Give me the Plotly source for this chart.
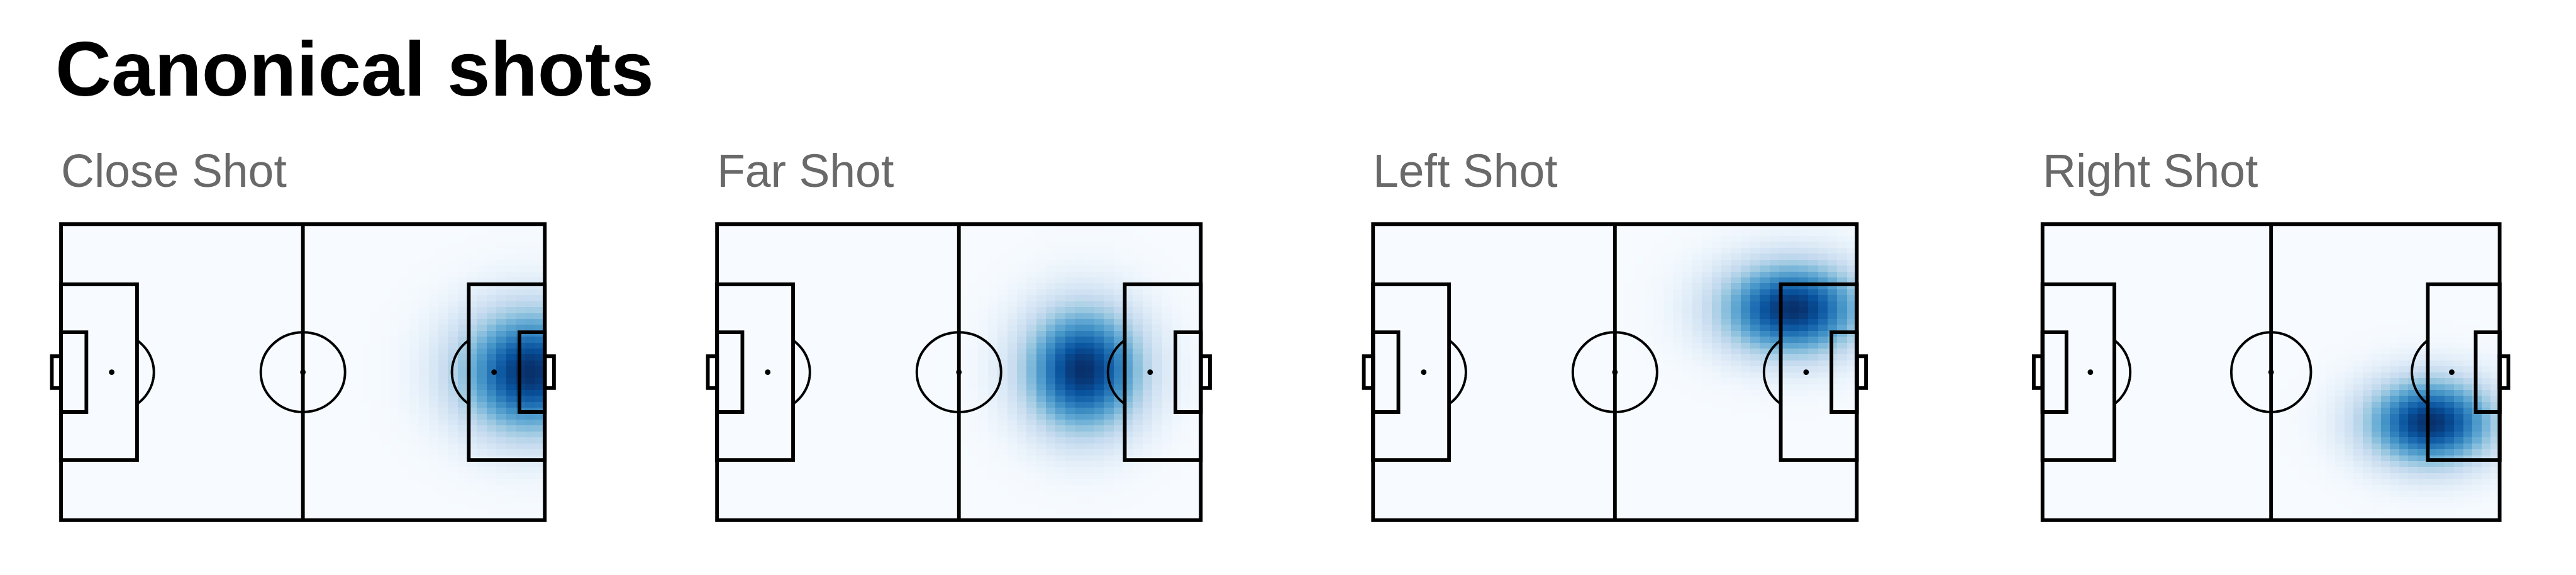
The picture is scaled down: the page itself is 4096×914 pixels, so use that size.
import numpy as np
import plotly.graph_objects as go

# ---------------- data ----------------
title_text = "Canonical shots"
shot_names = ["Close Shot", "Far Shot", "Left Shot", "Right Shot"]
# canonical shot location (metres, origin bottom-left of a 105 x 68 pitch)
shot_center_x = [102.0, 79.5, 91.0, 89.0]
shot_center_y = [34.0, 34.5, 48.5, 22.5]
# spread of each canonical shot (metres)
shot_sigma_x = [11.0, 9.0, 11.0, 10.5]
shot_sigma_y = [10.0, 10.0, 7.5, 7.0]

PITCH_LEN, PITCH_WID = 105.0, 68.0
N_X, N_Y = 50, 50

# ---------------- layout geometry (reference pixels) ----------------
REF_W, REF_H = 4184, 934
S = 0.978
W, H = 4096, 914

panel_center_px = [492.0, 1557.5, 2623.0, 3688.75]
pitch_w_px = [785.7, 785.7, 785.7, 742.5]
pitch_top_px, pitch_bot_px = 364.0, 845.0
XR = (-4.0, 109.0)
YR = (-4.0, 72.0)

LINE_W = 6 * S
CIRC_W = 4 * S
SPOT = 9 * S

fig = go.Figure()

xc = (np.arange(N_X) + 0.5) * PITCH_LEN / N_X
yc = (np.arange(N_Y) + 0.5) * PITCH_WID / N_Y
XX, YY = np.meshgrid(xc, yc)

ppm_y = (pitch_bot_px - pitch_top_px) / PITCH_WID
y_dom_top = pitch_top_px - (YR[1] - PITCH_WID) * ppm_y
y_dom_bot = pitch_bot_px + (0 - YR[0]) * ppm_y
ydomain = [1 - y_dom_bot / REF_H, 1 - y_dom_top / REF_H]

shapes = []
annotations = []

def arc_path(cx, cy, r, a0, a1, n=40):
    t = np.linspace(np.radians(a0), np.radians(a1), n)
    pts = [(cx + r * np.cos(a), cy + r * np.sin(a)) for a in t]
    return "M " + " L ".join(f"{x:.3f},{y:.3f}" for x, y in pts)

FONT = "Liberation Sans, Arial, Helvetica, sans-serif"

for i, name in enumerate(shot_names):
    k = i + 1
    xa = "x" if k == 1 else f"x{k}"
    ya = "y" if k == 1 else f"y{k}"
    ppm_x = pitch_w_px[i] / PITCH_LEN
    x0_px = panel_center_px[i] - pitch_w_px[i] / 2
    xdomain = [(x0_px + XR[0] * ppm_x) / REF_W, (x0_px + XR[1] * ppm_x) / REF_W]

    z = np.exp(-((XX - shot_center_x[i]) ** 2 / (2 * shot_sigma_x[i] ** 2)
                 + (YY - shot_center_y[i]) ** 2 / (2 * shot_sigma_y[i] ** 2)))

    fig.add_trace(go.Heatmap(
        x=xc, y=yc, z=z, colorscale="Blues", zmin=0, zmax=float(z.max()),
        showscale=False, hoverinfo="skip", xaxis=xa, yaxis=ya, zsmooth=False))

    # spots
    fig.add_trace(go.Scatter(
        x=[11.0, PITCH_LEN / 2, PITCH_LEN - 11.0], y=[34.0, 34.0, 34.0],
        mode="markers", marker=dict(color="black", size=SPOT),
        showlegend=False, hoverinfo="skip", xaxis=xa, yaxis=ya))

    axis_kw = dict(showgrid=False, zeroline=False, showticklabels=False,
                   ticks="", showline=False, fixedrange=True)
    fig.update_layout(**{
        ("xaxis" if k == 1 else f"xaxis{k}"): dict(domain=xdomain, range=list(XR),
                                                   anchor=ya, **axis_kw),
        ("yaxis" if k == 1 else f"yaxis{k}"): dict(domain=ydomain, range=list(YR),
                                                   anchor=xa, **axis_kw),
    })

    ln = dict(color="black", width=LINE_W)
    lc = dict(color="black", width=CIRC_W)
    ref = dict(xref=xa, yref=ya)
    L, Wd = PITCH_LEN, PITCH_WID
    # outline & halfway
    shapes.append(dict(type="rect", x0=0, y0=0, x1=L, y1=Wd, line=ln, **ref))
    shapes.append(dict(type="line", x0=L / 2, y0=0, x1=L / 2, y1=Wd, line=ln, **ref))
    # centre circle
    shapes.append(dict(type="circle", x0=L / 2 - 9.15, x1=L / 2 + 9.15,
                       y0=Wd / 2 - 9.15, y1=Wd / 2 + 9.15, line=lc, **ref))
    # penalty areas
    shapes.append(dict(type="rect", x0=0, x1=16.5, y0=Wd / 2 - 20.16, y1=Wd / 2 + 20.16, line=ln, **ref))
    shapes.append(dict(type="rect", x0=L - 16.5, x1=L, y0=Wd / 2 - 20.16, y1=Wd / 2 + 20.16, line=ln, **ref))
    # goal areas
    shapes.append(dict(type="rect", x0=0, x1=5.5, y0=Wd / 2 - 9.16, y1=Wd / 2 + 9.16, line=ln, **ref))
    shapes.append(dict(type="rect", x0=L - 5.5, x1=L, y0=Wd / 2 - 9.16, y1=Wd / 2 + 9.16, line=ln, **ref))
    # goals
    shapes.append(dict(type="rect", x0=-2, x1=0, y0=Wd / 2 - 3.66, y1=Wd / 2 + 3.66, line=ln, **ref))
    shapes.append(dict(type="rect", x0=L, x1=L + 2, y0=Wd / 2 - 3.66, y1=Wd / 2 + 3.66, line=ln, **ref))
    # penalty arcs
    ang = np.degrees(np.arccos(5.5 / 9.15))
    shapes.append(dict(type="path", path=arc_path(11.0, Wd / 2, 9.15, -ang, ang), line=lc, **ref))
    shapes.append(dict(type="path", path=arc_path(L - 11.0, Wd / 2, 9.15, 180 - ang, 180 + ang), line=lc, **ref))

    annotations.append(dict(
        text=name, x=(x0_px - 2) / REF_W, y=1 - 278.2 / REF_H, xref="paper", yref="paper",
        xanchor="left", yanchor="middle", showarrow=False,
        font=dict(family=FONT, size=75 * S, color="#696969")))

annotations.append(dict(
    text="<b>" + title_text + "</b>", x=88 / REF_W, y=1 - 111.5 / REF_H,
    xref="paper", yref="paper", xanchor="left", yanchor="middle", showarrow=False,
    font=dict(family=FONT, size=126 * S, color="black")))

fig.update_layout(
    width=W, height=H, margin=dict(l=0, r=0, t=0, b=0),
    paper_bgcolor="white", plot_bgcolor="white",
    shapes=shapes, annotations=annotations, showlegend=False,
)

fig.write_html("out.html", config={"displayModeBar": False},
               post_script="document.body.style.margin='0px';document.body.style.overflow='hidden';")
